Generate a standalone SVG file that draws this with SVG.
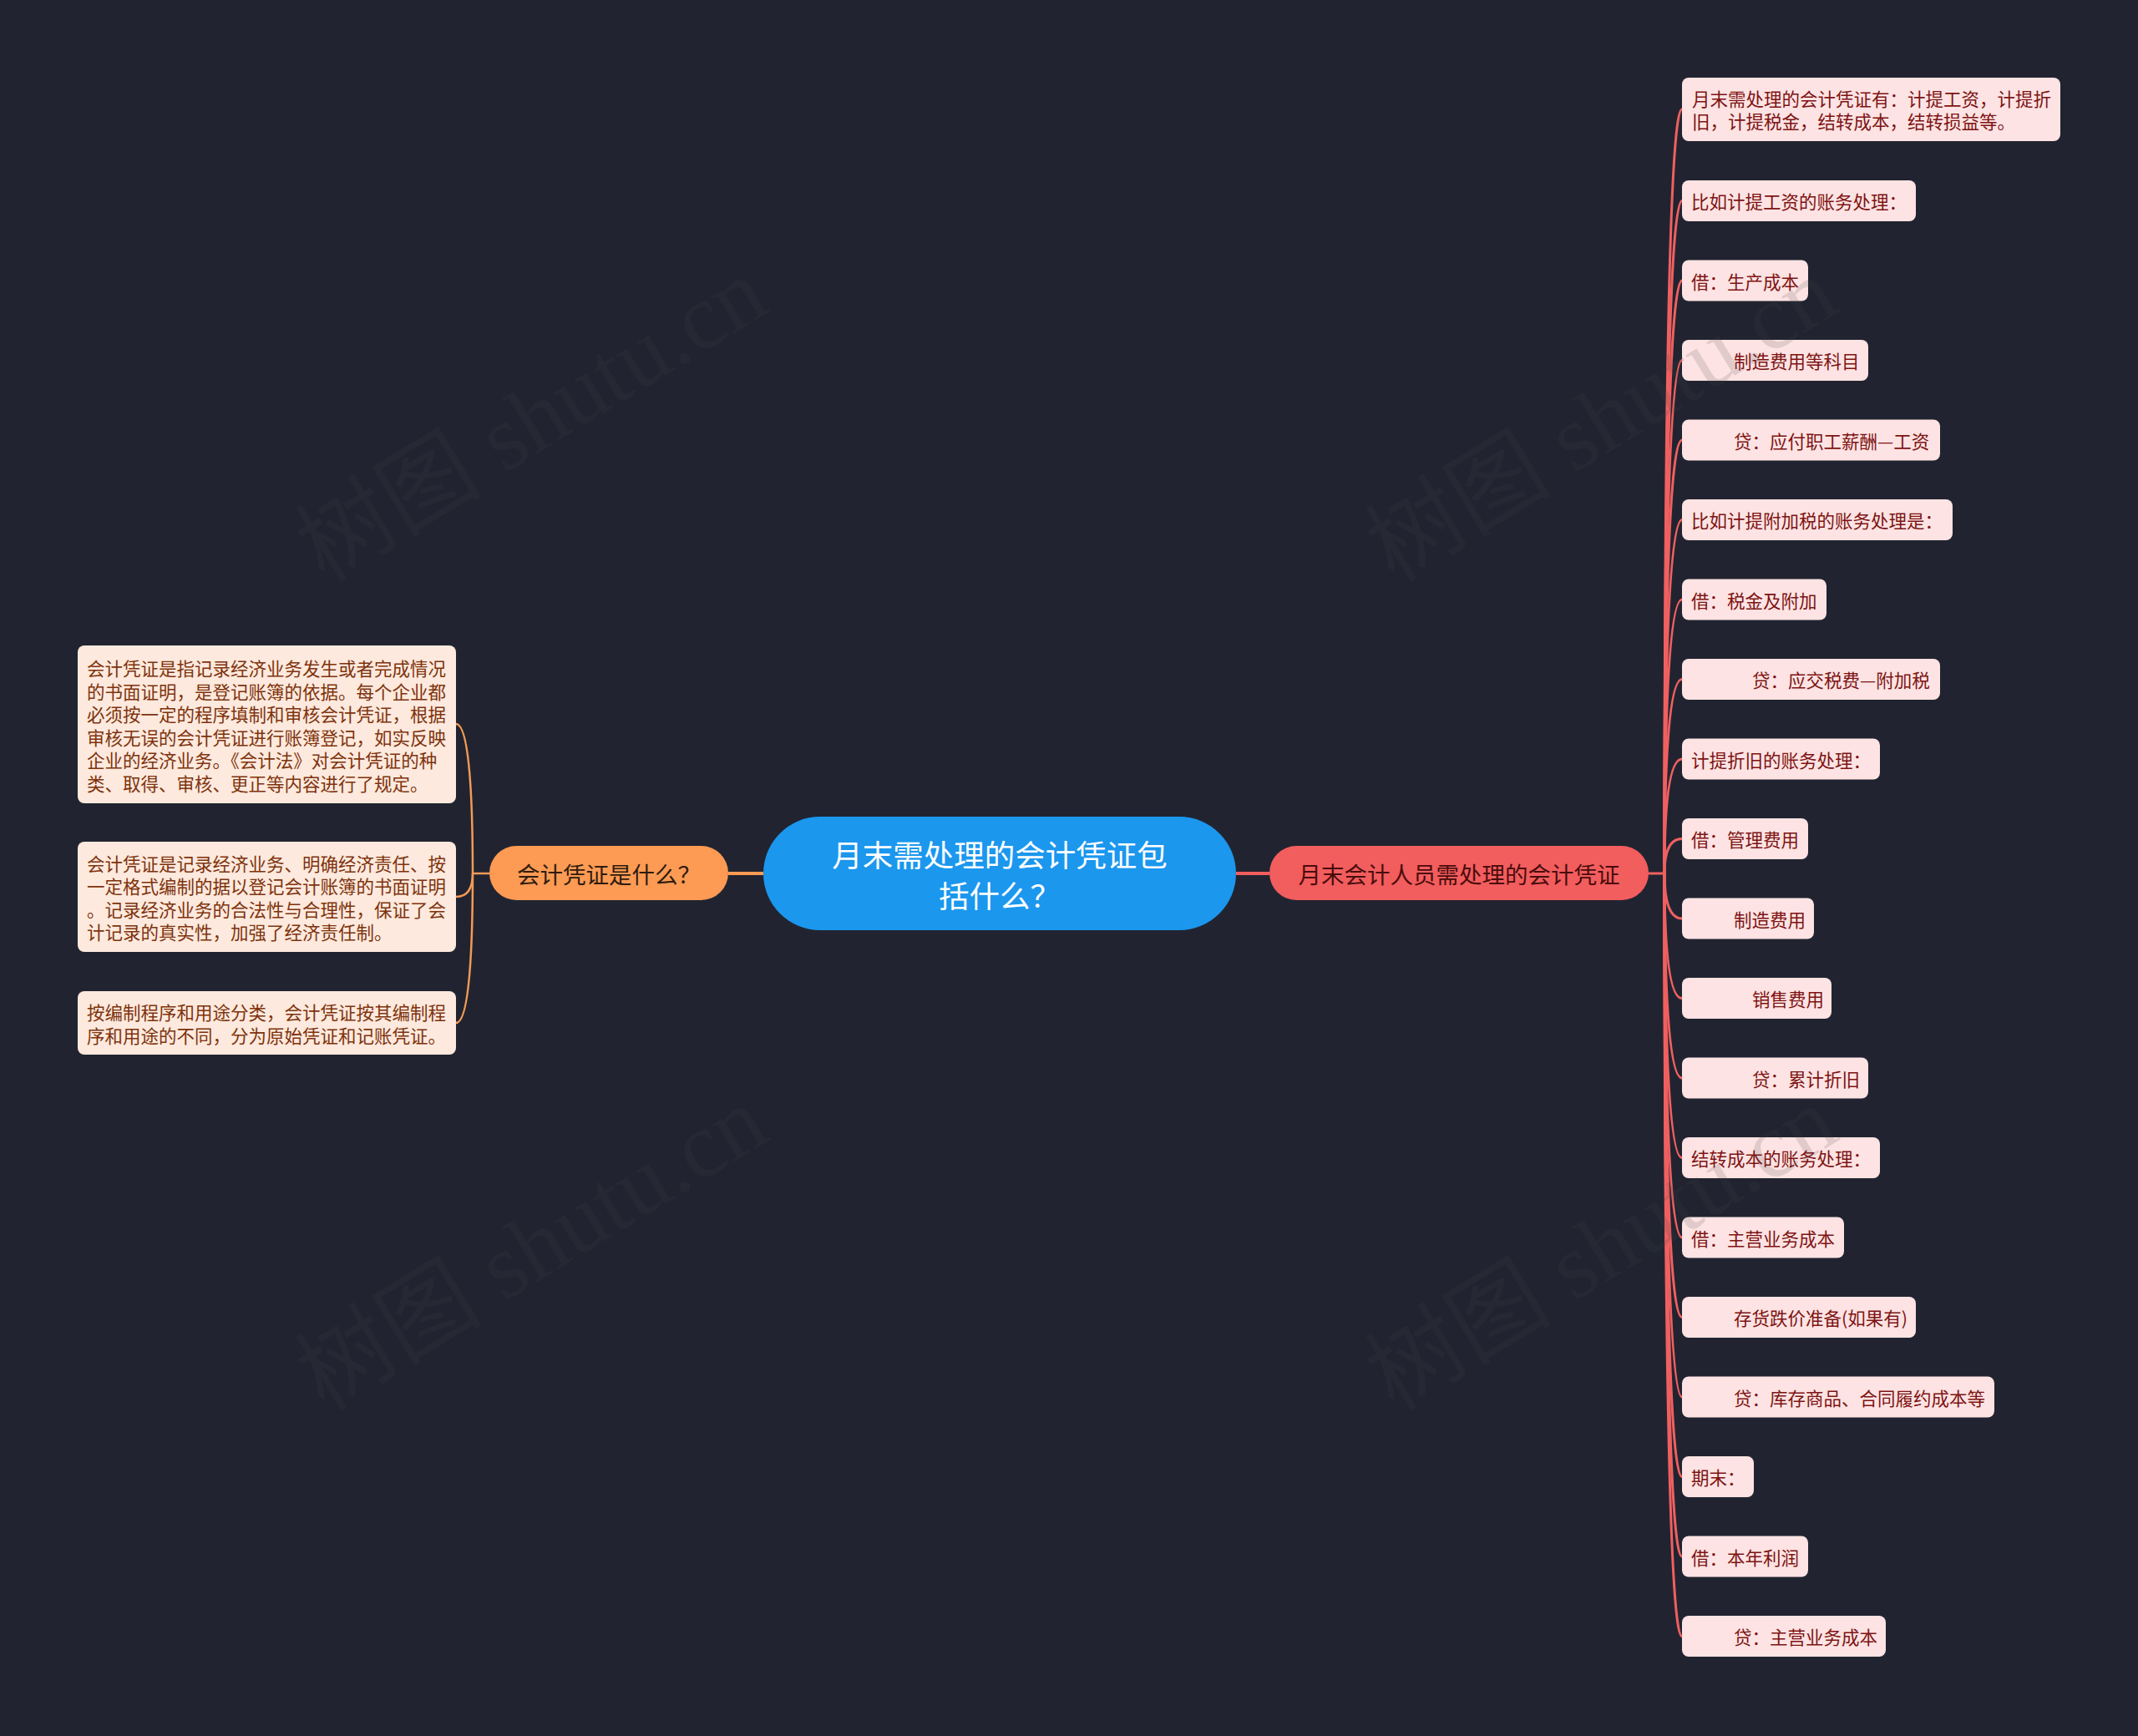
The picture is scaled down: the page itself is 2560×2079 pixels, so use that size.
<svg xmlns="http://www.w3.org/2000/svg" width="2560" height="2079" viewBox="0 0 2560 2079">
<style>
text{font-family:"Noto Sans CJK SC","Noto Sans",sans-serif;}
.bg{fill:#212430;}
.rbox{fill:#fde3e3;}
.lbox{fill:#fde9dd;}
.rt{font-size:21.5px;fill:#7d1313;dominant-baseline:central;}
.lt{font-size:21.5px;fill:#7e330d;dominant-baseline:central;}
.cr{fill:none;stroke:#f06060;stroke-width:3;}
.cl{fill:none;stroke:#f59a55;stroke-width:2.5;}
.wm{font-family:"Liberation Serif","Noto Sans CJK SC",serif;font-size:112px;fill:#444;opacity:0.15;}
</style>
<rect class="bg" x="0" y="0" width="2560" height="2079"/>

<g id="connectors">
<path d="M872 1046 H914" stroke="#fd9a53" stroke-width="4" fill="none"/>
<path d="M1480 1046 H1520" stroke="#f25d5e" stroke-width="4" fill="none"/>
<path class="cl" d="M586 1046 H566"/>
<path class="cl" d="M566 1046 C566 956 562 867 546 867"/>
<path class="cl" d="M566 1046 C566 1060 562 1074 546 1074"/>
<path class="cl" d="M566 1046 C566 1136 562 1225 546 1225"/>
<path class="cr" d="M1974 1046 H1993"/>
<path class="cr" d="M1993 1046 C1993 588 1997 131 2014 131"/>
<path class="cr" d="M1993 1046 C1993 643 1997 240.5 2014 240.5"/>
<path class="cr" d="M1993 1046 C1993 691 1997 336 2014 336"/>
<path class="cr" d="M1993 1046 C1993 739 1997 431.5 2014 431.5"/>
<path class="cr" d="M1993 1046 C1993 786 1997 527 2014 527"/>
<path class="cr" d="M1993 1046 C1993 834 1997 622.5 2014 622.5"/>
<path class="cr" d="M1993 1046 C1993 882 1997 718 2014 718"/>
<path class="cr" d="M1993 1046 C1993 930 1997 813.5 2014 813.5"/>
<path class="cr" d="M1993 1046 C1993 977 1997 909 2014 909"/>
<path class="cr" d="M1993 1046 C1993 1025 1997 1004.5 2014 1004.5"/>
<path class="cr" d="M1993 1046 C1993 1073 1997 1100 2014 1100"/>
<path class="cr" d="M1993 1046 C1993 1121 1997 1195.5 2014 1195.5"/>
<path class="cr" d="M1993 1046 C1993 1168 1997 1291 2014 1291"/>
<path class="cr" d="M1993 1046 C1993 1216 1997 1386.5 2014 1386.5"/>
<path class="cr" d="M1993 1046 C1993 1264 1997 1482 2014 1482"/>
<path class="cr" d="M1993 1046 C1993 1312 1997 1577.5 2014 1577.5"/>
<path class="cr" d="M1993 1046 C1993 1359 1997 1673 2014 1673"/>
<path class="cr" d="M1993 1046 C1993 1407 1997 1768.5 2014 1768.5"/>
<path class="cr" d="M1993 1046 C1993 1455 1997 1864 2014 1864"/>
<path class="cr" d="M1993 1046 C1993 1503 1997 1959.5 2014 1959.5"/>
</g>

<g id="root">
<rect x="914" y="978" width="566" height="136" rx="68" fill="#1b97ee"/>
<text text-anchor="middle" dominant-baseline="central" font-size="36.5" fill="#ffffff"><tspan x="1197" y="1022">月末需处理的会计凭证包</tspan><tspan x="1197" y="1071">括什么？</tspan></text>
</g>

<g id="n-left-main">
<rect x="586" y="1013" width="286" height="65" rx="32.5" fill="#fd9a53"/>
<text x="729" y="1046" text-anchor="middle" dominant-baseline="central" font-size="27.5" fill="#2e1c0e">会计凭证是什么？</text>
</g>

<g id="n-right-main">
<rect x="1520" y="1013" width="454" height="65" rx="32.5" fill="#f25d5e"/>
<text x="1747" y="1046" text-anchor="middle" dominant-baseline="central" font-size="27.5" fill="#4a0c0c">月末会计人员需处理的会计凭证</text>
</g>

<g id="l1">
<rect class="lbox" x="93" y="773" width="453" height="189" rx="8"/>
<text class="lt" x="104" y="799.5">会计凭证是指记录经济业务发生或者完成情况</text>
<text class="lt" x="104" y="827">的书面证明，是登记账簿的依据。每个企业都</text>
<text class="lt" x="104" y="854.5">必须按一定的程序填制和审核会计凭证，根据</text>
<text class="lt" x="104" y="882">审核无误的会计凭证进行账簿登记，如实反映</text>
<text class="lt" x="104" y="909.5">企业的经济业务。《会计法》对会计凭证的种</text>
<text class="lt" x="104" y="937">类、取得、审核、更正等内容进行了规定。</text>
</g>
<g id="l2">
<rect class="lbox" x="93" y="1008" width="453" height="132" rx="8"/>
<text class="lt" x="104" y="1033">会计凭证是记录经济业务、明确经济责任、按</text>
<text class="lt" x="104" y="1060.5">一定格式编制的据以登记会计账簿的书面证明</text>
<text class="lt" x="104" y="1088">。记录经济业务的合法性与合理性，保证了会</text>
<text class="lt" x="104" y="1115.5">计记录的真实性，加强了经济责任制。</text>
</g>
<g id="l3">
<rect class="lbox" x="93" y="1187" width="453" height="76" rx="8"/>
<text class="lt" x="104" y="1211.5">按编制程序和用途分类，会计凭证按其编制程</text>
<text class="lt" x="104" y="1239">序和用途的不同，分为原始凭证和记账凭证。</text>
</g>

<g id="r1"><rect class="rbox" x="2014" y="93" width="453" height="76" rx="8"/>
<text class="rt" x="2026" y="117.5">月末需处理的会计凭证有：计提工资，计提折</text>
<text class="rt" x="2026" y="144.5">旧，计提税金，结转成本，结转损益等。</text></g>
<g id="r2"><rect class="rbox" x="2014" y="216" width="280" height="49" rx="8"/><text class="rt" x="2025" y="240.5">比如计提工资的账务处理：</text></g>
<g id="r3"><rect class="rbox" x="2014" y="311.5" width="151" height="49" rx="8"/><text class="rt" x="2025" y="336">借：生产成本</text></g>
<g id="r4"><rect class="rbox" x="2014" y="407" width="223" height="49" rx="8"/><text class="rt" x="2076" y="431.5">制造费用等科目</text></g>
<g id="r5"><rect class="rbox" x="2014" y="502.5" width="309" height="49" rx="8"/><text class="rt" x="2076" y="527">贷：应付职工薪酬—工资</text></g>
<g id="r6"><rect class="rbox" x="2014" y="598" width="324" height="49" rx="8"/><text class="rt" x="2025" y="622.5">比如计提附加税的账务处理是：</text></g>
<g id="r7"><rect class="rbox" x="2014" y="693.5" width="173" height="49" rx="8"/><text class="rt" x="2025" y="718">借：税金及附加</text></g>
<g id="r8"><rect class="rbox" x="2014" y="789" width="309" height="49" rx="8"/><text class="rt" x="2098" y="813.5">贷：应交税费—附加税</text></g>
<g id="r9"><rect class="rbox" x="2014" y="884.5" width="237" height="49" rx="8"/><text class="rt" x="2025" y="909">计提折旧的账务处理：</text></g>
<g id="r10"><rect class="rbox" x="2014" y="980" width="151" height="49" rx="8"/><text class="rt" x="2025" y="1004.5">借：管理费用</text></g>
<g id="r11"><rect class="rbox" x="2014" y="1075.5" width="158" height="49" rx="8"/><text class="rt" x="2076" y="1100">制造费用</text></g>
<g id="r12"><rect class="rbox" x="2014" y="1171" width="179" height="49" rx="8"/><text class="rt" x="2098" y="1195.5">销售费用</text></g>
<g id="r13"><rect class="rbox" x="2014" y="1266.5" width="223" height="49" rx="8"/><text class="rt" x="2098" y="1291">贷：累计折旧</text></g>
<g id="r14"><rect class="rbox" x="2014" y="1362" width="237" height="49" rx="8"/><text class="rt" x="2025" y="1386.5">结转成本的账务处理：</text></g>
<g id="r15"><rect class="rbox" x="2014" y="1457.5" width="194" height="49" rx="8"/><text class="rt" x="2025" y="1482">借：主营业务成本</text></g>
<g id="r16"><rect class="rbox" x="2014" y="1553" width="280" height="49" rx="8"/><text class="rt" x="2076" y="1577.5">存货跌价准备(如果有)</text></g>
<g id="r17"><rect class="rbox" x="2014" y="1648.5" width="374" height="49" rx="8"/><text class="rt" x="2076" y="1673">贷：库存商品、合同履约成本等</text></g>
<g id="r18"><rect class="rbox" x="2014" y="1744" width="86" height="49" rx="8"/><text class="rt" x="2025" y="1768.5">期末：</text></g>
<g id="r19"><rect class="rbox" x="2014" y="1839.5" width="151" height="49" rx="8"/><text class="rt" x="2025" y="1864">借：本年利润</text></g>
<g id="r20"><rect class="rbox" x="2014" y="1935" width="244" height="49" rx="8"/><text class="rt" x="2076" y="1959.5">贷：主营业务成本</text></g>

<g id="watermarks">
<text class="wm" x="646" y="538" text-anchor="middle" transform="rotate(-31.4 646 518)">树图 shutu.cn</text>
<text class="wm" x="1927" y="538" text-anchor="middle" transform="rotate(-31.4 1927 518)">树图 shutu.cn</text>
<text class="wm" x="646" y="1530" text-anchor="middle" transform="rotate(-31.4 646 1510)">树图 shutu.cn</text>
<text class="wm" x="1927" y="1530" text-anchor="middle" transform="rotate(-31.4 1927 1510)">树图 shutu.cn</text>
</g>
</svg>
